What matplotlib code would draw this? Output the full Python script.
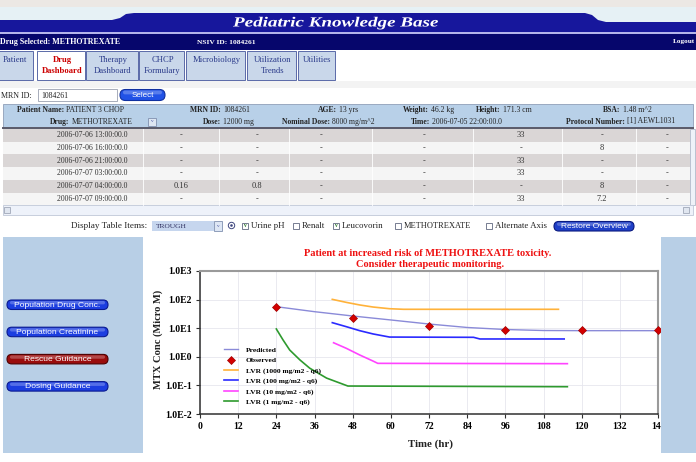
import matplotlib
matplotlib.use('Agg')
import matplotlib.pyplot as plt
from matplotlib.patches import Rectangle, FancyBboxPatch, Polygon, Circle, PathPatch
from matplotlib.ticker import FuncFormatter, NullLocator
from matplotlib.textpath import TextPath
from matplotlib.font_manager import FontProperties
from matplotlib.transforms import Affine2D
import numpy as np

# values (time in hr, conc in micro M)
t_pred = [24, 36, 48, 60, 72, 84, 96, 108, 120, 144]
c_pred = [56.5, 37.8, 26.7, 19.4, 14.0, 10.6, 9.0, 8.3, 8.2, 8.2]
t_obs = [24, 48, 72, 96, 120, 144]
c_obs = [56, 22, 11.9, 8.6, 8.6, 8.4]
t_lvr1000 = [41.6, 46.0, 50.2, 54.4, 59.6, 64, 112.7]
c_lvr1000 = [102, 80, 65, 55, 48, 45.8, 45.8]
t_lvr100 = [41.6, 46.0, 50.2, 54.4, 59.6, 86, 88, 114.5]
c_lvr100 = [15.6, 11.3, 8.2, 6.3, 4.9, 4.8, 4.2, 4.2]
t_lvr10 = [42.0, 46.0, 50.2, 54.4, 55.9, 115.5]
c_lvr10 = [3.1, 1.98, 1.16, 0.71, 0.59, 0.575]
t_lvr1 = [24, 26.1, 28.2, 31.4, 34.5, 39.8, 46.5, 115.5]
c_lvr1 = [9.4, 3.9, 1.73, 0.78, 0.40, 0.18, 0.095, 0.09]

# table in the dashboard
row_times = ['2006-07-06 13:00:00.0', '2006-07-06 16:00:00.0', '2006-07-06 21:00:00.0',
             '2006-07-07 03:00:00.0', '2006-07-07 04:00:00.0', '2006-07-07 09:00:00.0']
table_cols = [['-', '-', '-', '-', '0.16', '-'],
              ['-', '-', '-', '-', '0.8', '-'],
              ['-', '-', '-', '-', '-', '-'],
              ['-', '-', '-', '-', '-', '-'],
              ['33', '-', '33', '33', '-', '33'],
              ['-', '8', '-', '-', '8', '7.2'],
              ['-', '-', '-', '-', '-', '-']]
col_x = [181, 257, 321, 424, 521, 602, 667]

tabs = [('Patient', -6, 33), ('Drug\nDashboard', 37, 85), ('Therapy\nDashboard', 86, 138),
        ('CHCP\nFormulary', 139, 184), ('Microbiology', 186, 245),
        ('Utilization\nTrends', 247, 296), ('Utilities', 298, 335)]
side_buttons = ['Population Drug Conc.', 'Population Creatinine', 'Rescue Guidance', 'Dosing Guidance']

W, H = 696, 462
SERIF = 'Liberation Serif'
SANS = 'Liberation Sans'

fig = plt.figure(figsize=(6.96, 4.62), dpi=100)
fig.patch.set_facecolor('white')

ax = fig.add_axes([200 / W, 1 - 414 / H, 458 / W, 143 / H], zorder=1)
ui = fig.add_axes([0, 0, 1, 1], zorder=5)
ui.set_xlim(0, W)
ui.set_ylim(H, 0)
ui.axis('off')


def rect(x, y, w, h, fc, ec='none', lw=0.6):
    ui.add_patch(Rectangle((x, y), w, h, facecolor=fc, edgecolor=ec, lw=lw))


def txt(x, y, s, size=4.8, color='#222222', **kw):
    kw.setdefault('va', 'center')
    kw.setdefault('family', SERIF)
    return ui.text(x, y, s, fontsize=size, color=color, **kw)


def pill(x, y, w, h, fc, ec, label, size=4.8):
    ui.add_patch(FancyBboxPatch((x, y), w, h, boxstyle='round,pad=0,rounding_size=%g' % (h / 2),
                                facecolor=fc, edgecolor=ec, lw=0.8))
    ui.add_patch(FancyBboxPatch((x + 3, y + 1), w - 6, h * 0.35, boxstyle='round,pad=0,rounding_size=%g' % (h * 0.17),
                                facecolor='white', edgecolor='none', alpha=0.25))
    txt(x + w / 2, y + h / 2 + 0.3, label, size=size, color='white', ha='center', family=SANS)


# ---- header ----
rect(0, 0, W, 7, '#ece8e4')
rect(0, 7, W, 27, '#e6f1f5')
ui.add_patch(Polygon([(0, 20), (112, 20), (120, 18), (126, 14), (134, 13), (585, 13), (592, 15),
                      (598, 20), (606, 22), (W, 22), (W, 32), (0, 32)], closed=True,
                     facecolor='#17179c', edgecolor='none'))
rect(0, 32, W, 2, '#b4b4ea')
rect(0, 34, W, 16, '#06066c')
# banner title, stretched sideways like the wide script face
tp = TextPath((0, 0), 'Pediatric Knowledge Base', size=14,
              prop=FontProperties(family=SERIF, weight='bold', style='italic'))
bb = tp.get_extents()
tp = Affine2D().translate(-bb.x0, 0).scale(205 / bb.width, -1).translate(233, 26.5).transform_path(tp)
ui.add_patch(PathPatch(tp, facecolor='white', edgecolor='none'))
txt(0, 42, 'Drug Selected: METHOTREXATE', size=5.8, color='white', weight='bold')
txt(197, 42, 'NSIV ID: 1084261', size=5.4, color='white', weight='bold')
txt(673, 42, 'Logout', size=5.2, color='white', weight='bold')

# ---- tabs ----
for label, x0, x1 in tabs:
    sel = label.startswith('Drug')
    rect(x0, 51, x1 - x0, 29, 'white' if sel else '#c9d7ea', ec='#5a6aa8', lw=0.7)
    lines = label.split('\n')
    for i, ln in enumerate(lines):
        txt((x0 + x1) / 2 + 1, 60 + 11 * i, ln, size=6.2, ha='center',
            color='#cc0000' if sel else '#2a3a8a', weight='bold' if sel else 'normal')
rect(0, 81, W, 7, '#f3f3f3')

# ---- MRN search ----
txt(1, 95.5, 'MRN ID:', size=5.8)
rect(38, 89, 79, 12, 'white', ec='#9aa0b0')
txt(41, 95.5, '1084261', size=5.6)
pill(120, 89.5, 45, 11, '#2152e6', '#1030a0', 'Select', size=5.8)

# ---- patient table ----
rect(3, 104, 690, 24, '#b8d0e8', ec='#8f9fb8')
ui.plot([3, 693], [128, 128], color='#5a5a6a', lw=1.4)
head1 = [(17, 'Patient Name:', 'PATIENT 3 CHOP'), (190, 'MRN ID:', '1084261'),
         (318, 'AGE:', '13 yrs'), (403, 'Weight:', '46.2 kg'),
         (476, 'Height:', '171.3 cm'), (603, 'BSA:', '1.48 m^2')]
head2 = [(50, 'Drug:', 'METHOTREXATE'), (203, 'Dose:', '12000 mg'),
         (282, 'Nominal Dose:', '8000 mg/m^2'), (411, 'Time:', '2006-07-05 22:00:00.0'),
         (566, 'Protocol Number:', '[1] AEWL1031')]
for yy, head in ((110, head1), (121.5, head2)):
    for x0, lab, val in head:
        t = txt(x0, yy, lab, size=5.5, weight='bold')
        ui.annotate(val, xy=(1, 0.5), xycoords=t, xytext=(1.6, 0), textcoords='offset points',
                    va='center', fontsize=5.5, family=SERIF, color='#222222')
rect(148, 117.5, 8, 8, '#dde6f2', ec='#8090b0')
txt(152, 121.5, 'v', size=3.8, ha='center', color='#4050a0')

row_h = 12.7
for i, tstamp in enumerate(row_times):
    y0 = 129 + i * row_h
    rect(3, y0, 687, row_h, '#dad6d6' if i % 2 == 0 else '#f5f5f5')
    txt(92, y0 + row_h / 2, tstamp, size=5.6, ha='center', color='#333333')
    for cx, col in zip(col_x, table_cols):
        txt(cx, y0 + row_h / 2, col[i], size=6, ha='center', color='#333333')
for sx in [143, 219, 289, 372, 473, 562, 636]:
    ui.plot([sx, sx], [129, 205], color='white', lw=0.6)
rect(690, 129, 5, 76, '#eef2f8', ec='#b0b8c8')
rect(3, 205, 690, 10, '#eef2fa', ec='#c0c8d8')
rect(4, 207, 6, 6, '#e0e6f0', ec='#a0a8b8')
rect(683, 207, 6, 6, '#e0e6f0', ec='#a0a8b8')

# ---- display controls ----
txt(147, 226, 'Display Table Items:', size=6.6, ha='right')
rect(152, 221, 62, 10, '#c6d6ee')
txt(156, 226, 'TROUGH', size=5.4, color='#303060')
rect(214, 221, 8, 10, '#dde6f4', ec='#8090b0')
txt(218, 226, 'v', size=3.8, ha='center', color='#4050a0')
ui.add_patch(Circle((231.5, 225.5), 3.2, facecolor='white', edgecolor='#404880', lw=0.7))
ui.add_patch(Circle((231.5, 225.5), 1.3, facecolor='#404880', edgecolor='none'))
checks = [(242, True, 'Urine pH'), (293, False, 'Renalt'), (333, True, 'Leucovorin'),
          (395, False, 'METHOTREXATE'), (486, False, 'Alternate Axis')]
for cx, on, lab in checks:
    rect(cx, 222.5, 6, 6, 'white', ec='#606880')
    if on:
        txt(cx + 3, 225.5, 'v', size=4, ha='center', color='#207020', weight='bold')
    txt(cx + 9, 226, lab, size=6.4 if not lab.startswith('METH') else 6.0)
pill(554, 221.5, 80, 9.5, '#1f40c8', '#0a1a80', 'Restore Overview', size=6)

# ---- side panels ----
rect(3, 237, 140, 216, '#b8cfe6')
rect(661, 237, 35, 216, '#b8cfe6')
for i, lab in enumerate(side_buttons):
    red = lab.startswith('Rescue')
    pill(7, 300 + i * 27.2, 101, 9.5, '#9a0c0c' if red else '#1c3ee0',
         '#500000' if red else '#0a1a90', lab, size=6.1)

# ---- chart ----
txt(428, 253, 'Patient at increased risk of METHOTREXATE toxicity.', size=7.5,
    color='#ee1111', ha='center', weight='bold')
txt(430, 264.5, 'Consider therapeutic monitoring.', size=7.5, color='#ee1111',
    ha='center', weight='bold')
txt(158, 339, 'MTX Conc (Micro M)', size=7.6, ha='center', rotation=90, weight='bold')
txt(431, 444, 'Time (hr)', size=7.8, ha='center', weight='bold')

ax.plot(t_pred, c_pred, color='#8a8ad8', lw=1, label='Predicted')
ax.plot(t_obs, c_obs, ls='none', marker='D', ms=4.5, color='#d40000', mec='#a00000',
        mew=0.5, label='Observed', clip_on=False, zorder=4)
ax.plot(t_lvr1000, c_lvr1000, color='#ffb23a', lw=1.2, label='LVR (1000 mg/m2 - q6)')
ax.plot(t_lvr100, c_lvr100, color='#2a2aff', lw=1.2, label='LVR (100 mg/m2 - q6)')
ax.plot(t_lvr10, c_lvr10, color='#ff44ff', lw=1.2, label='LVR (10 mg/m2 - q6)')
ax.plot(t_lvr1, c_lvr1, color='#2e9a2e', lw=1.2, label='LVR (1 mg/m2 - q6)')

ax.set_yscale('log')
ax.set_ylim(1e-2, 1e3)
ax.set_xlim(0, 144)
ax.set_xticks(range(0, 145, 12))
ax.yaxis.set_major_formatter(FuncFormatter(lambda v, p: '1.0E%d' % round(np.log10(v))))
ax.yaxis.set_minor_locator(NullLocator())
ax.grid(color='#e6e6ee', lw=0.6)
ax.tick_params(length=3, width=0.8, color='#303030', pad=3, labelsize=7)
for lab in ax.get_xticklabels() + ax.get_yticklabels():
    lab.set_family(SERIF)
    lab.set_weight('bold')
for s in ['left', 'bottom']:
    ax.spines[s].set_color('#303030')
    ax.spines[s].set_linewidth(1.1)
for s in ['top', 'right']:
    ax.spines[s].set_color('#9a9a9a')
    ax.spines[s].set_linewidth(1.5)

ax.legend(loc='upper left', bbox_to_anchor=(0.052, 0.47), frameon=False, borderpad=0,
          borderaxespad=0, handlelength=1.9, handletextpad=1.0, labelspacing=0.52,
          prop={'family': SERIF, 'weight': 'bold', 'size': 5.4})

fig.savefig('out.png', dpi=100)
